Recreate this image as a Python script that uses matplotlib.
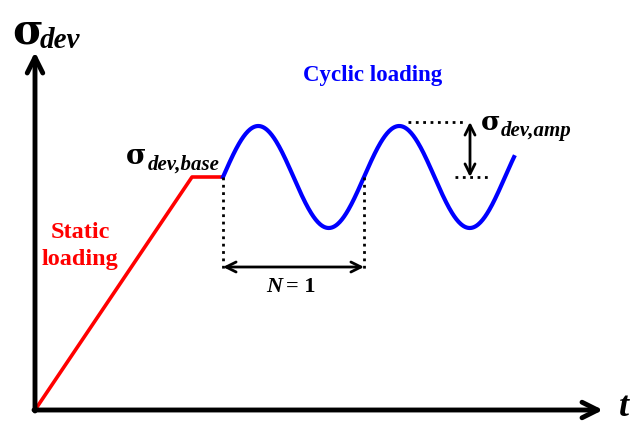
import matplotlib.pyplot as plt
import numpy as np

# schematic values (t, sigma), origin at lower left
static_t = [0, 157, 188]
static_s = [0, 233, 233]
cyc_start = 188
cyc_end = 479
cyc_base = 233
cyc_amp = 51
cyc_period = 141

t = np.linspace(cyc_start, cyc_end, 400)
s = cyc_base + cyc_amp * np.sin(2 * np.pi * (t - cyc_start) / cyc_period)

plt.rcParams['font.family'] = 'Liberation Serif'
fig = plt.figure(figsize=(6.3, 4.21), dpi=100)
ax = fig.add_axes([0, 0, 1, 1])
ax.set_xlim(-35, 595)
ax.set_ylim(-11, 410)
ax.axis('off')

# axes arrows
ax.annotate('', xy=(0, 358), xytext=(0, -1),
            arrowprops=dict(arrowstyle='->', lw=3.5, color='black', mutation_scale=28, shrinkA=0, shrinkB=0))
ax.annotate('', xy=(568, 0), xytext=(-1, 0),
            arrowprops=dict(arrowstyle='->', lw=3.5, color='black', mutation_scale=28, shrinkA=0, shrinkB=0))

ax.plot(static_t, static_s, color='#ff0000', lw=2.6, solid_capstyle='butt')
ax.plot(t, s, color='#0000ff', lw=3)

# N = 1 markers
p1 = cyc_start + cyc_period
ax.plot([cyc_start, cyc_start], [cyc_base, 138], 'k:', lw=2)
ax.plot([p1, p1], [cyc_base, 138], 'k:', lw=2)
ax.annotate('', xy=(cyc_start, 143), xytext=(p1, 143),
            arrowprops=dict(arrowstyle='<->', lw=2, color='black', mutation_scale=18, shrinkA=0, shrinkB=0))
ax.text((cyc_start + p1) / 2 - 11, 123, 'N', fontsize=16, fontweight='bold', style='italic',
        ha='right', va='center')
ax.text((cyc_start + p1) / 2 - 7, 123, '= 1', fontsize=16, fontweight='bold', ha='left', va='center')

# amplitude markers
ax.plot([373, 428], [cyc_base + cyc_amp + 4, cyc_base + cyc_amp + 4], 'k:', lw=2)
ax.plot([420, 453], [cyc_base, cyc_base], 'k:', lw=2)
ax.annotate('', xy=(435, cyc_base + cyc_amp + 4), xytext=(435, cyc_base),
            arrowprops=dict(arrowstyle='<->', lw=2, color='black', mutation_scale=18, shrinkA=0, shrinkB=0))

# labels
ax.text(-23, 379, 'σ', fontsize=30, fontweight='bold', family='DejaVu Serif', va='center', ha='left')
ax.text(5, 369, 'dev', fontsize=21, fontweight='bold', style='italic', va='center', ha='left')

ax.text(91, 254, 'σ', fontsize=20, fontweight='bold', family='DejaVu Serif', va='center', ha='left')
ax.text(113, 245, 'dev,base', fontsize=15, fontweight='bold', style='italic', va='center', ha='left')

ax.text(446, 288, 'σ', fontsize=19, fontweight='bold', family='DejaVu Serif', va='center', ha='left')
ax.text(466, 279, 'dev,amp', fontsize=15, fontweight='bold', style='italic', va='center', ha='left')

ax.text(338, 335, 'Cyclic loading', fontsize=16.5, fontweight='bold', color='#0000ff', ha='center', va='center')
ax.text(45, 164, 'Static\nloading', fontsize=17.5, fontweight='bold', color='#ff0000', ha='center', va='center',
        linespacing=1.35)
ax.text(584, 2, 't', fontsize=26, fontweight='bold', style='italic', ha='left', va='center')

plt.savefig('out.png', dpi=100)
